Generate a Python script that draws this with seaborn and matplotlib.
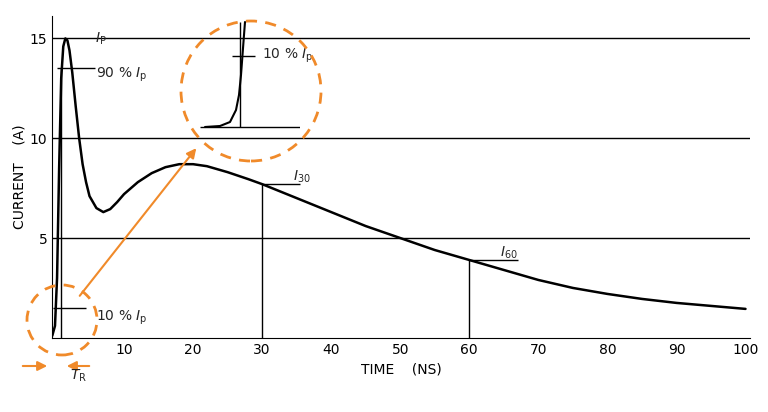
import matplotlib
matplotlib.use("Agg")
import matplotlib.pyplot as plt
from matplotlib.patches import Ellipse, FancyArrowPatch
import seaborn as sns
import pandas as pd

# waveform (time ns, current A)
time_ns = [-1.0, -0.4, 0.0, 0.3, 0.6, 0.9, 1.2, 1.5, 1.8, 2.1, 2.5, 3.0, 3.5, 4.0, 4.5, 5.0, 6.0,
           7.0, 8.0, 9.0, 10.0, 12.0, 14.0, 16.0, 18.0, 20.0, 22.0, 25.0, 28.0, 30.0, 35.0,
           40.0, 45.0, 50.0, 55.0, 60.0, 65.0, 70.0, 75.0, 80.0, 85.0, 90.0, 95.0, 100.0]
current_a = [0.0, 0.1, 0.6, 3.0, 8.5, 13.0, 14.6, 15.0, 14.9, 14.4, 13.3, 11.6, 10.0, 8.7, 7.8,
             7.1, 6.5, 6.3, 6.45, 6.8, 7.2, 7.8, 8.25, 8.55, 8.7, 8.7, 8.6, 8.3, 7.95, 7.7,
             7.0, 6.3, 5.6, 5.0, 4.4, 3.9, 3.4, 2.9, 2.5, 2.2, 1.95, 1.75, 1.6, 1.45]
y_ticks = [5, 10, 15]
x_ticks = [10, 20, 30, 40, 50, 60, 70, 80, 90, 100]
i30, i60 = 7.7, 3.9

orange = "#f08a2a"
fig = plt.figure(figsize=(7.68, 4.12), dpi=100)
ax = fig.add_axes([0.068, 0.18, 0.909, 0.78])
sns.set_style("white")
df = pd.DataFrame({"t": time_ns, "i": current_a})
sns.lineplot(data=df, x="t", y="i", ax=ax, color="black", lw=1.8, sort=False)
ax.set_xlim(-0.4, 100.7)
ax.set_ylim(0, 16.1)
for y in y_ticks:
    ax.axhline(y, color="black", lw=1)
ax.vlines([30], 0, i30, color="black", lw=1)
ax.vlines([60], 0, i60, color="black", lw=1)
ax.vlines([0.9], 0, 13.5, color="black", lw=1)
ax.hlines(i30, 30, 35.5, color="black", lw=1)
ax.hlines(i60, 60, 67, color="black", lw=1)
ax.hlines(13.5, 0.3, 5.8, color="black", lw=1)
ax.hlines(1.5, -0.3, 4.5, color="black", lw=1)
ax.text(34.5, 7.9, "$I_{30}$", fontsize=10)
ax.text(64.5, 4.05, "$I_{60}$", fontsize=10)
ax.text(5.8, 15.0, "$I_{\\rm P}$", fontsize=10, va="center")
ax.text(6.0, 13.2, "90 % $I_{\\rm p}$", fontsize=10, va="center")
ax.text(6.0, 1.0, "10 % $I_{\\rm p}$", fontsize=10, va="center")
ax.set_xticks(x_ticks)
ax.set_yticks(y_ticks)
ax.tick_params(length=0, labelsize=10)
ax.set_xlabel("TIME    (NS)", fontsize=10)
ax.set_ylabel("CURRENT    (A)", fontsize=10, labelpad=2)
for s in ["top", "right"]:
    ax.spines[s].set_visible(False)

W, H = 768, 412
def fx(px):
    return px / W
def fy(py):
    return 1 - py / H

# zoom circles
fig.patches.append(Ellipse((fx(251), fy(91)), 140 / W, 140 / H, transform=fig.transFigure,
                           fill=False, ec=orange, lw=2, ls=(0, (4, 3))))
fig.patches.append(Ellipse((fx(62), fy(320)), 70 / W, 70 / H, transform=fig.transFigure,
                           fill=False, ec=orange, lw=2, ls=(0, (4, 3))))
fig.patches.append(FancyArrowPatch((fx(78), fy(298)), (fx(198), fy(146)), transform=fig.transFigure,
                                   arrowstyle="-|>", mutation_scale=14, color=orange, lw=1.5))
fig.patches.append(FancyArrowPatch((fx(20), fy(366)), (fx(50), fy(366)), transform=fig.transFigure,
                                   arrowstyle="-|>", mutation_scale=14, color=orange, lw=1.5))
fig.patches.append(FancyArrowPatch((fx(92), fy(366)), (fx(64), fy(366)), transform=fig.transFigure,
                                   arrowstyle="-|>", mutation_scale=14, color=orange, lw=1.5))
fig.text(fx(70), fy(376), "$T_{\\rm R}$", fontsize=10, va="center")

# inset zoom of rise
ins = fig.add_axes([fx(200), fy(130), 100 / W, 110 / H])
ins.axis("off")
ins.set_xlim(0, 100)
ins.set_ylim(0, 110)
zoom_t = [5, 20, 30, 36, 39, 41, 42.5, 44, 45]
zoom_i = [3, 4, 8, 20, 35, 55, 75, 95, 108]
sns.lineplot(x=zoom_t, y=zoom_i, ax=ins, color="black", lw=1.5, sort=False)
ins.hlines(3, 0, 100, color="black", lw=1)
ins.vlines(40, 3, 108, color="black", lw=1)
ins.hlines(74, 32, 55, color="black", lw=1)
ins.text(62, 74, "10 % $I_{\\rm p}$", fontsize=10, va="center")

fig.savefig("out.png", dpi=100)
